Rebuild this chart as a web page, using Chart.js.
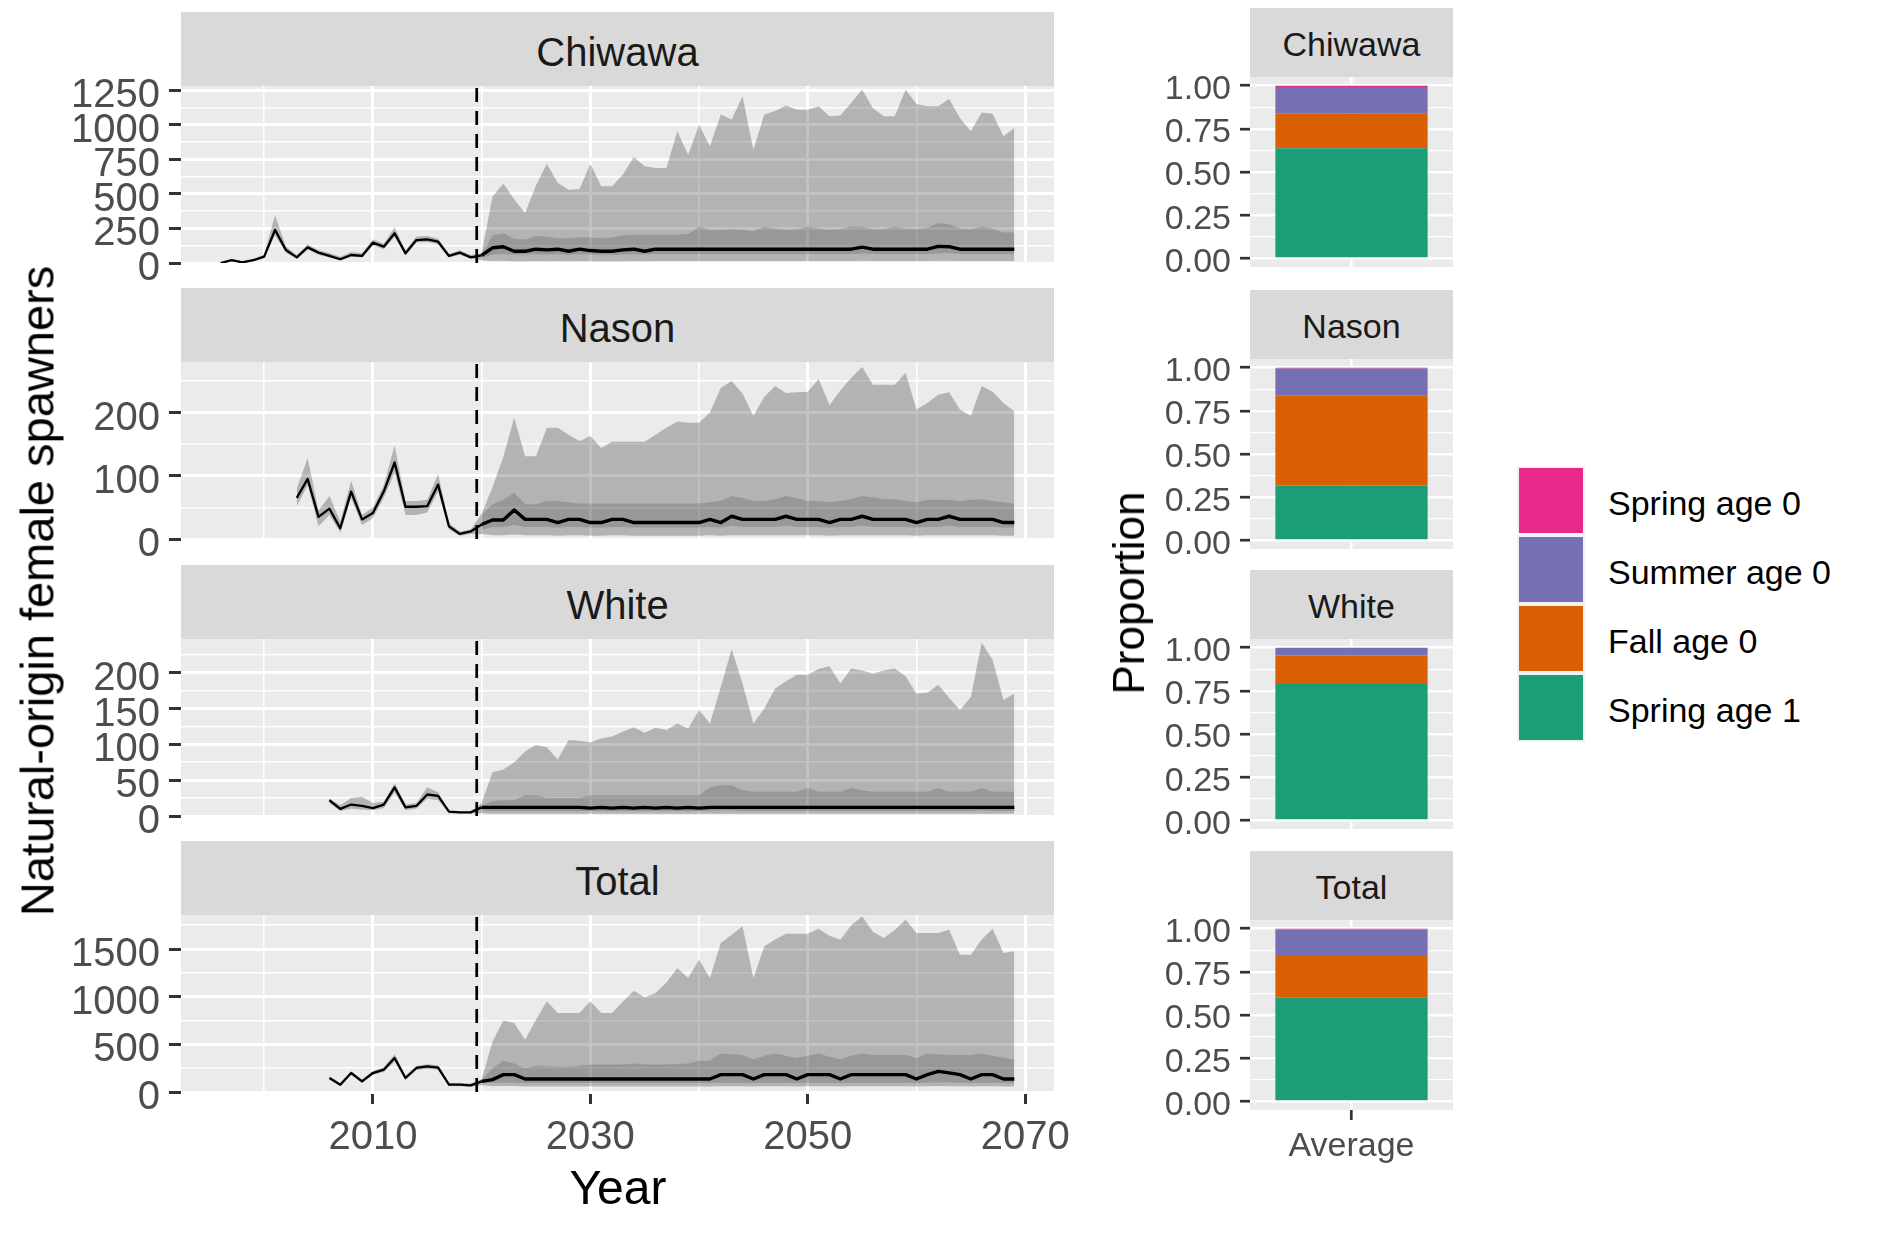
<!DOCTYPE html>
<html>
<head>
<meta charset="utf-8">
<script src="https://cdn.jsdelivr.net/npm/chart.js@4.4.1/dist/chart.umd.min.js"></script>
<style>
  html, body { margin: 0; padding: 0; background: #ffffff; }
  body { position: relative; width: 1883px; height: 1233px; overflow: hidden;
         font-family: "Liberation Sans", Arial, sans-serif; }
  canvas { position: absolute; }
  .strip { position: absolute; background: #D9D9D9; color: #1A1A1A; box-sizing: border-box;
           display: flex; align-items: center; justify-content: center; white-space: nowrap; }
  .label { position: absolute; white-space: nowrap; color: #000000; transform: translate(-50%, -50%); }
  .vlabel { transform: translate(-50%, -50%) rotate(-90deg); }
  .key { position: absolute; width: 68px; height: 69px; background: #F2F2F2; box-sizing: border-box; padding: 2px; }
  .key div { width: 100%; height: 100%; }
  .keytext { position: absolute; font-size: 34px; color: #000000; transform: translateY(-50%); white-space: nowrap; }
</style>
</head>
<body>
<script>
// ---- data ----
const projStart = 2020;          // first projected year
const vlineYear = 2019.55;       // dashed reference line
const xMin = 1992.35, xMax = 2072.65;
const yearTicks = [2010, 2030, 2050, 2070];

// Chiwawa: observed 1996-2019, projection 2020-2069
const chiStart = 1996;
const chiObs   = [0, 20, 5, 20, 46, 240, 94, 41, 113, 75, 51, 27, 58, 51, 147, 118, 215, 70, 166, 171, 154, 51, 75, 41];
const chiObsLo = [0, 12, 2, 12, 35, 200, 75, 30, 100, 60, 40, 18, 45, 40, 128, 100, 188, 55, 148, 152, 135, 40, 60, 32];
const chiObsHi = [5, 28, 12, 30, 60, 345, 120, 58, 135, 92, 72, 45, 80, 70, 172, 140, 258, 88, 192, 195, 178, 66, 92, 58];
const chiMed  = [55, 110, 118, 85, 85, 100, 95, 100, 85, 100,
                 90, 85, 85, 95, 100, 85, 100, 100, 100, 100,
                 100, 100, 100, 100, 100, 100, 100, 100, 100, 100,
                 100, 100, 100, 100, 100, 115, 100, 100, 100, 100,
                 100, 100, 120, 118, 100, 100, 100, 100, 100, 100];
const chiLo50 = [35, 62, 66, 60, 62, 64, 62, 64, 60, 64,
                 62, 60, 60, 62, 64, 62, 65, 65, 65, 65,
                 66, 66, 66, 66, 66, 66, 66, 66, 66, 66,
                 66, 66, 66, 66, 66, 68, 66, 66, 66, 66,
                 66, 66, 70, 70, 66, 66, 66, 66, 66, 66];
const chiHi50 = [60, 200, 215, 175, 170, 195, 190, 180, 180, 185,
                 185, 180, 185, 200, 205, 205, 205, 205, 205, 210,
                 265, 240, 240, 245, 240, 230, 265, 250, 240, 245,
                 265, 250, 240, 245, 265, 260, 245, 245, 265, 250,
                 245, 255, 290, 280, 250, 245, 265, 250, 220, 220];
const chiLo95 = [20, 14, 16, 12, 12, 14, 13, 14, 12, 14,
                 13, 12, 12, 13, 14, 12, 14, 14, 14, 14,
                 14, 14, 14, 14, 14, 14, 14, 14, 14, 14,
                 14, 14, 14, 14, 14, 16, 14, 14, 14, 14,
                 14, 14, 16, 16, 14, 14, 14, 14, 14, 14];
const chiHi95 = [70, 480, 575, 460, 362, 560, 719, 580, 531, 536,
                 719, 555, 555, 640, 767, 700, 688, 688, 953, 784,
                 1001, 845, 1074, 1038, 1206, 820, 1074, 1100, 1139, 1110,
                 1110, 1134, 1062, 1067, 1160, 1255, 1120, 1062, 1062, 1255,
                 1150, 1134, 1134, 1187, 1050, 953, 1090, 1080, 917, 977];
const chiTicks = [0, 250, 500, 750, 1000, 1250];
const chiMax = 1281;

// Nason: observed 2003-2019
const nasStart = 2003;
const nasObs   = [65, 95, 35, 48, 17, 75, 31, 41, 75, 121, 51, 51, 52, 86, 20, 8, 12];
const nasObsLo = [52, 85, 20, 38, 10, 65, 22, 33, 65, 105, 38, 38, 42, 75, 15, 5, 8];
const nasObsHi = [80, 128, 45, 68, 28, 92, 38, 50, 85, 148, 60, 60, 62, 103, 25, 12, 15];
const nasMed  = [23, 30, 30, 46, 31, 31, 31, 26, 31, 31,
                 26, 26, 31, 31, 26, 26, 26, 26, 26, 26,
                 26, 31, 26, 36, 31, 31, 31, 31, 36, 31,
                 31, 31, 26, 31, 31, 36, 31, 31, 31, 31,
                 26, 31, 31, 36, 31, 31, 31, 31, 26, 26];
const nasLo50 = [15, 19, 19, 22, 19, 19, 19, 18, 19, 19,
                 18, 18, 19, 19, 18, 18, 18, 18, 18, 18,
                 18, 19, 18, 21, 19, 19, 19, 19, 21, 19,
                 19, 19, 18, 19, 19, 21, 19, 19, 19, 19,
                 18, 19, 19, 21, 19, 19, 19, 19, 18, 18];
const nasHi50 = [38, 55, 62, 73, 55, 55, 60, 60, 58, 56,
                 56, 56, 56, 56, 56, 56, 56, 56, 56, 56,
                 56, 58, 60, 68, 65, 60, 60, 63, 68, 65,
                 60, 60, 58, 60, 63, 68, 66, 63, 63, 60,
                 58, 62, 62, 62, 60, 62, 63, 60, 58, 56];
const nasLo95 = [8, 6, 6, 7, 6, 6, 6, 5, 6, 6,
                 5, 5, 6, 6, 5, 5, 5, 5, 5, 5,
                 5, 6, 5, 6, 6, 6, 6, 6, 6, 6,
                 6, 6, 5, 6, 6, 6, 6, 6, 6, 6,
                 5, 6, 6, 6, 6, 6, 6, 6, 5, 5];
const nasHi95 = [40, 82, 130, 192, 131, 131, 176, 176, 165, 155,
                 163, 144, 154, 154, 154, 154, 165, 176, 186, 184,
                 184, 200, 239, 250, 230, 195, 225, 242, 231, 232,
                 233, 253, 212, 235, 255, 272, 244, 244, 244, 263,
                 205, 215, 228, 232, 205, 195, 242, 233, 215, 202];
const nasTicks = [0, 100, 200];
const nasMax = 280;

// White: observed 2006-2019
const whiStart = 2006;
const whiObs   = [22, 10, 16, 14, 11, 16, 40, 12, 14, 30, 28, 6, 5, 5];
const whiObsLo = [18, 7, 10, 9, 8, 11, 33, 8, 10, 24, 22, 4, 4, 4];
const whiObsHi = [24, 15, 25, 27, 18, 20, 46, 16, 18, 40, 33, 7, 6, 6];
const whiMed  = [12, 12, 12, 12, 12, 12, 12, 12, 12, 12,
                 11, 12, 11, 12, 11, 12, 11, 12, 11, 12,
                 11, 12, 12, 12, 12, 12, 12, 12, 12, 12,
                 12, 12, 12, 12, 12, 12, 12, 12, 12, 12,
                 12, 12, 12, 12, 12, 12, 12, 12, 12, 12];
const whiLo50 = [8, 7, 7, 7, 7, 7, 7, 7, 7, 7,
                 7, 7, 7, 7, 7, 7, 7, 7, 7, 7,
                 7, 7, 8, 8, 7, 7, 7, 7, 7, 7,
                 7, 7, 7, 7, 7, 7, 7, 7, 7, 7,
                 7, 7, 7, 7, 7, 7, 8, 7, 7, 7];
const whiHi50 = [14, 21, 22, 22, 29, 29, 25, 25, 25, 25,
                 29, 29, 29, 29, 29, 29, 29, 29, 29, 29,
                 29, 40, 43, 43, 36, 34, 34, 34, 34, 34,
                 39, 34, 34, 34, 39, 36, 34, 34, 34, 34,
                 34, 34, 39, 34, 34, 34, 39, 34, 34, 34];
const whiLo95 = [4, 3, 3, 3, 3, 3, 3, 3, 3, 3,
                 3, 3, 3, 3, 3, 3, 3, 3, 3, 3,
                 3, 3, 3, 3, 3, 3, 3, 3, 3, 3,
                 3, 3, 3, 3, 3, 3, 3, 3, 3, 3,
                 3, 3, 3, 3, 3, 3, 3, 3, 3, 3];
const whiHi95 = [18, 61, 65, 75, 90, 99, 96, 79, 106, 105,
                 103, 108, 111, 118, 124, 116, 123, 120, 129, 122,
                 148, 129, 180, 233, 185, 129, 150, 178, 188, 197,
                 197, 205, 209, 185, 206, 203, 199, 203, 206, 195,
                 171, 172, 183, 165, 148, 166, 242, 218, 162, 171];
const whiTicks = [0, 50, 100, 150, 200];
const whiMax = 247;

// Total: observed 2006-2019
const totStart = 2006;
const totObs   = [147, 77, 199, 112, 199, 234, 357, 147, 252, 269, 255, 77, 77, 70];
const totObsLo = [130, 60, 180, 95, 180, 210, 320, 125, 230, 245, 235, 60, 60, 55];
const totObsHi = [165, 95, 215, 130, 220, 260, 395, 170, 275, 290, 280, 95, 95, 90];
const totMed  = [112, 130, 182, 182, 136, 136, 136, 136, 136, 136,
                 136, 136, 136, 136, 136, 136, 136, 136, 136, 136,
                 136, 136, 182, 182, 182, 136, 182, 182, 182, 136,
                 182, 182, 182, 136, 182, 182, 182, 182, 182, 182,
                 136, 182, 217, 200, 182, 136, 182, 182, 136, 136];
const totLo50 = [95, 96, 100, 98, 94, 94, 94, 94, 94, 94,
                 94, 94, 94, 94, 94, 94, 94, 94, 94, 94,
                 94, 94, 98, 98, 98, 94, 98, 98, 98, 94,
                 98, 98, 98, 94, 98, 98, 98, 98, 98, 98,
                 94, 98, 102, 100, 98, 94, 98, 98, 94, 94];
const totHi50 = [125, 250, 327, 300, 248, 279, 270, 264, 264, 275,
                 288, 288, 288, 288, 300, 288, 288, 288, 295, 300,
                 327, 327, 404, 395, 388, 342, 380, 404, 380, 357,
                 380, 404, 370, 342, 380, 404, 388, 388, 388, 388,
                 357, 404, 394, 390, 388, 388, 404, 380, 360, 342];
const totLo95 = [70, 60, 62, 62, 59, 59, 59, 59, 59, 59,
                 59, 59, 59, 59, 59, 59, 59, 59, 59, 59,
                 59, 59, 60, 60, 60, 59, 60, 60, 60, 59,
                 60, 60, 60, 59, 60, 60, 60, 60, 60, 60,
                 59, 60, 62, 61, 60, 59, 60, 60, 59, 59];
const totHi95 = [130, 531, 749, 725, 549, 759, 951, 829, 829, 829,
                 951, 829, 829, 950, 1063, 993, 1038, 1150, 1301, 1196,
                 1388, 1196, 1563, 1650, 1738, 1196, 1528, 1600, 1661, 1661,
                 1661, 1714, 1640, 1598, 1750, 1843, 1680, 1616, 1700, 1808,
                 1668, 1668, 1668, 1703, 1441, 1441, 1600, 1714, 1458, 1476];
const totTicks = [0, 500, 1000, 1500];
const totMax = 1857;

// proportions by juvenile life stage (bars), one value per site
const barSites = ['Chiwawa', 'Nason', 'White', 'Total'];
const barLabels = ['Average'];
const springAge1 = [0.638, 0.318, 0.790, 0.600];
const fallAge0   = [0.199, 0.522, 0.165, 0.247];
const summerAge0 = [0.155, 0.155, 0.045, 0.148];
const springAge0 = [0.008, 0.005, 0.000, 0.005];
const stageNames = ['Spring age 1', 'Fall age 0', 'Summer age 0', 'Spring age 0'];
const propTicks = [0, 0.25, 0.5, 0.75, 1];

// ---- layout ----
const FONT = '"Liberation Sans", Arial, sans-serif';
const AXIS_TEXT = '#4D4D4D';
const TICK_COL = '#333333';
const PAD = 40;
const LEFT_W = 1100, LEFT_AXIS = 181, LEFT_RIGHT = 1054;
const LEFT_TOPS = [86, 362, 639, 915], LEFT_H = 177, STRIP_H = 74;
const RIGHT_X = 1100, RIGHT_W = 380, RIGHT_AXIS = 150, RIGHT_PW = 203;
const RIGHT_TOPS = [77, 359, 639, 920], RIGHT_H = 190, RSTRIP_H = 69;
const stageColors = ['#1B9E77', '#D95F02', '#7570B3', '#E7298A'];

Chart.defaults.font.family = FONT;

const panels = [
  {name: 'Chiwawa', start: chiStart, obs: chiObs, obsLo: chiObsLo, obsHi: chiObsHi, med: chiMed,
   lo50: chiLo50, hi50: chiHi50, lo95: chiLo95, hi95: chiHi95, ticks: chiTicks, yMax: chiMax},
  {name: 'Nason', start: nasStart, obs: nasObs, obsLo: nasObsLo, obsHi: nasObsHi, med: nasMed,
   lo50: nasLo50, hi50: nasHi50, lo95: nasLo95, hi95: nasHi95, ticks: nasTicks, yMax: nasMax},
  {name: 'White', start: whiStart, obs: whiObs, obsLo: whiObsLo, obsHi: whiObsHi, med: whiMed,
   lo50: whiLo50, hi50: whiHi50, lo95: whiLo95, hi95: whiHi95, ticks: whiTicks, yMax: whiMax},
  {name: 'Total', start: totStart, obs: totObs, obsLo: totObsLo, obsHi: totObsHi, med: totMed,
   lo50: totLo50, hi50: totHi50, lo95: totLo95, hi95: totHi95, ticks: totTicks, yMax: totMax}
];
const stageValues = [springAge1, fallAge0, summerAge0, springAge0];

// grey panel background
const panelBg = {
  id: 'panelBg',
  beforeDraw(chart) {
    const {ctx, chartArea: a} = chart;
    ctx.save();
    ctx.fillStyle = '#EBEBEB';
    ctx.fillRect(a.left, a.top, a.right - a.left, a.bottom - a.top);
    ctx.restore();
  }
};

// major breaks plus the minor ones half way between
function withMinors(majors, lo, hi) {
  const step = majors[1] - majors[0];
  const out = majors.map(v => ({value: v, major: true}));
  for (let v = majors[0] - step / 2; v < hi; v += step) {
    if (v > lo) out.push({value: v, major: false});
  }
  return out.sort((a, b) => a.value - b.value);
}

function pts(start, values) {
  return values.map((v, k) => ({x: start + k, y: v}));
}

function addCanvas(left, top, w, h) {
  const cv = document.createElement('canvas');
  cv.width = w; cv.height = h;
  cv.style.left = left + 'px'; cv.style.top = top + 'px';
  cv.style.width = w + 'px'; cv.style.height = h + 'px';
  document.body.appendChild(cv);
  return cv;
}

function addDiv(cls, style, text) {
  const d = document.createElement('div');
  d.className = cls;
  Object.assign(d.style, style);
  if (text !== undefined) d.textContent = text;
  document.body.appendChild(d);
  return d;
}

const isMajor = c => c.tick && c.tick.major;

// ---- left: time series facets ----
panels.forEach((p, i) => {
  const last = i === panels.length - 1;
  const xAxisH = last ? 100 : 0;
  const padB = last ? 10 : PAD;
  const cv = addCanvas(0, LEFT_TOPS[i] - PAD, LEFT_W, PAD + LEFT_H + xAxisH + padB);
  const band = {borderColor: 'rgba(0,0,0,0)', borderWidth: 0, pointRadius: 0};
  const obsLine = p.obs.concat([p.med[0]]);

  new Chart(cv, {
    type: 'line',
    data: {
      datasets: [
        Object.assign({data: pts(p.start, p.obsLo.concat(p.lo95)), fill: false, order: 5}, band),
        Object.assign({data: pts(p.start, p.obsHi.concat(p.hi95)), fill: '-1',
                       backgroundColor: 'rgba(0,0,0,0.24)', order: 5}, band),
        Object.assign({data: pts(projStart, p.lo50), fill: false, order: 4}, band),
        Object.assign({data: pts(projStart, p.hi50), fill: '-1',
                       backgroundColor: 'rgba(0,0,0,0.15)', order: 4}, band),
        {data: pts(p.start, obsLine), borderColor: '#000000', borderWidth: 2.3,
         pointRadius: 0, fill: false, order: 3, borderJoinStyle: 'round'},
        {data: pts(projStart, p.med), borderColor: '#000000', borderWidth: 3.4,
         pointRadius: 0, fill: false, order: 2, borderJoinStyle: 'round'},
        {data: [{x: vlineYear, y: 0}, {x: vlineYear, y: p.yMax}], borderColor: '#000000',
         borderWidth: 2.7, borderDash: [14, 9], pointRadius: 0, fill: false, order: 1}
      ]
    },
    options: {
      responsive: false, animation: false, devicePixelRatio: 1, events: [],
      layout: {padding: {top: PAD, bottom: padB, left: 0, right: LEFT_W - LEFT_RIGHT}},
      plugins: {legend: {display: false}, tooltip: {enabled: false}},
      scales: {
        x: {
          type: 'linear', min: xMin, max: xMax, bounds: 'data',
          afterBuildTicks: s => { s.ticks = withMinors(yearTicks, xMin, xMax); },
          afterFit: s => { s.height = xAxisH; },
          border: {display: false},
          grid: {color: '#FFFFFF', lineWidth: c => isMajor(c) ? 3 : 1.6,
                 drawTicks: last, tickLength: 12, tickWidth: 3,
                 tickColor: c => isMajor(c) ? TICK_COL : 'rgba(0,0,0,0)'},
          ticks: {display: last, autoSkip: false, maxRotation: 0, padding: 10,
                  color: AXIS_TEXT, font: {size: 40},
                  callback: (v, k, ts) => ts[k].major ? String(v) : ''}
        },
        y: {
          type: 'linear', min: 0, max: p.yMax, bounds: 'data',
          afterBuildTicks: s => { s.ticks = withMinors(p.ticks, 0, p.yMax); },
          afterFit: s => { s.width = LEFT_AXIS; },
          border: {display: false},
          grid: {color: '#FFFFFF', lineWidth: c => isMajor(c) ? 3 : 1.6,
                 drawTicks: true, tickLength: 12, tickWidth: 3,
                 tickColor: c => isMajor(c) ? TICK_COL : 'rgba(0,0,0,0)'},
          ticks: {autoSkip: false, padding: 9, labelOffset: 6, color: AXIS_TEXT, font: {size: 40},
                  callback: (v, k, ts) => ts[k].major ? String(v) : ''}
        }
      }
    },
    plugins: [panelBg]
  });

  addDiv('strip', {left: LEFT_AXIS + 'px', top: (LEFT_TOPS[i] - STRIP_H) + 'px',
                   width: (LEFT_RIGHT - LEFT_AXIS) + 'px', height: STRIP_H + 'px',
                   fontSize: '40px', paddingTop: '7px'}, p.name);
});

// ---- right: stacked proportion bars ----
barSites.forEach((site, i) => {
  const last = i === barSites.length - 1;
  const xAxisH = last ? 56 : 0;
  const padB = last ? 10 : PAD;
  const cv = addCanvas(RIGHT_X, RIGHT_TOPS[i] - PAD, RIGHT_W, PAD + RIGHT_H + xAxisH + padB);

  new Chart(cv, {
    type: 'bar',
    data: {
      labels: barLabels,
      datasets: stageNames.map((nm, k) => ({
        label: nm, data: [stageValues[k][i]], backgroundColor: stageColors[k],
        borderWidth: 0, barPercentage: 0.75, categoryPercentage: 1
      }))
    },
    options: {
      responsive: false, animation: false, devicePixelRatio: 1, events: [],
      layout: {padding: {top: PAD, bottom: padB, left: 0, right: RIGHT_W - RIGHT_AXIS - RIGHT_PW}},
      plugins: {legend: {display: false}, tooltip: {enabled: false}},
      scales: {
        x: {
          stacked: true, offset: true,
          afterFit: s => { s.height = xAxisH; },
          border: {display: false},
          grid: {offset: false, color: '#FFFFFF', lineWidth: 2.6,
                 drawTicks: last, tickLength: 10, tickWidth: 2.7, tickColor: TICK_COL},
          ticks: {display: last, padding: 6, color: AXIS_TEXT, font: {size: 34}}
        },
        y: {
          stacked: true, min: -0.05, max: 1.05, bounds: 'data',
          afterBuildTicks: s => { s.ticks = withMinors(propTicks, -0.05, 1.05); },
          afterFit: s => { s.width = RIGHT_AXIS; },
          border: {display: false},
          grid: {color: '#FFFFFF', lineWidth: c => isMajor(c) ? 2.4 : 1.3,
                 drawTicks: true, tickLength: 10, tickWidth: 2.7,
                 tickColor: c => isMajor(c) ? TICK_COL : 'rgba(0,0,0,0)'},
          ticks: {autoSkip: false, padding: 9, labelOffset: 4, color: AXIS_TEXT, font: {size: 34},
                  callback: (v, k, ts) => ts[k].major ? v.toFixed(2) : ''}
        }
      }
    },
    plugins: [panelBg]
  });

  addDiv('strip', {left: (RIGHT_X + RIGHT_AXIS) + 'px', top: (RIGHT_TOPS[i] - RSTRIP_H) + 'px',
                   width: RIGHT_PW + 'px', height: RSTRIP_H + 'px',
                   fontSize: '34px', paddingTop: '3px'}, site);
});

// ---- axis titles ----
addDiv('label vlabel', {left: '37px', top: '591px', fontSize: '47px'}, 'Natural-origin female spawners');
addDiv('label', {left: '618px', top: '1187px', fontSize: '48px'}, 'Year');
addDiv('label vlabel', {left: '1129px', top: '593px', fontSize: '44px'}, 'Proportion');

// ---- legend (top to bottom: reverse stacking order) ----
const legendTops = [466, 535, 604, 673];
[3, 2, 1, 0].forEach((k, row) => {
  const key = addDiv('key', {left: '1517px', top: legendTops[row] + 'px'});
  const sw = document.createElement('div');
  sw.style.background = stageColors[k];
  key.appendChild(sw);
  addDiv('keytext', {left: '1608px', top: (legendTops[row] + 37) + 'px'}, stageNames[k]);
});
</script>
</body>
</html>
